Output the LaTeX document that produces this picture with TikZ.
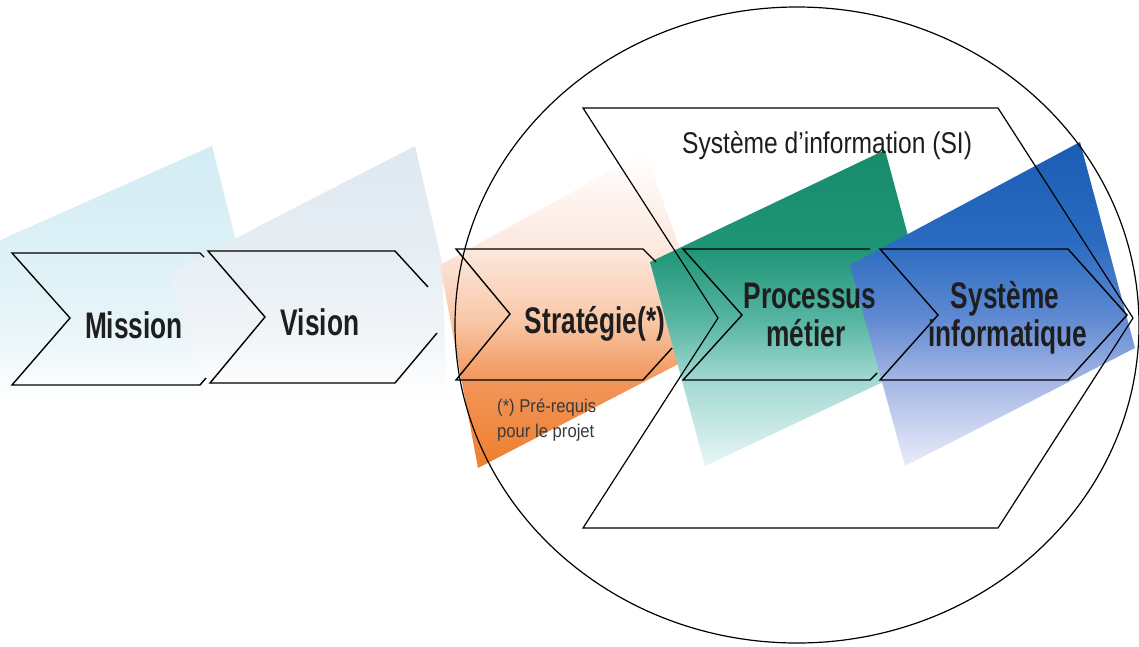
\documentclass[tikz,border=0pt]{standalone}
\usepackage{fontspec}
\setmainfont{Liberation Sans}
\newfontfamily\lblfont[FakeStretch=0.71]{Liberation Sans}
\newfontfamily\titfont[FakeStretch=0.82]{Liberation Sans}
\newfontfamily\notefont[FakeStretch=0.9]{Liberation Sans}
\definecolor{txtc}{HTML}{1E1E1E}
\definecolor{notec}{HTML}{3A3A3A}
% orange
\definecolor{or0}{HTML}{EE7F2C}
\definecolor{or1}{HTML}{F2955A}
\definecolor{or2}{HTML}{F8C8A8}
\definecolor{or3}{HTML}{FCE8DE}
% green
\definecolor{gr0}{HTML}{EAF7F7}
\definecolor{gr1}{HTML}{A2D9D2}
\definecolor{gr2}{HTML}{56B5A1}
\definecolor{gr3}{HTML}{1F9577}
\definecolor{gr4}{HTML}{178B6B}
% blue
\definecolor{bl0}{HTML}{EEEEFA}
\definecolor{bl1}{HTML}{A3B5E4}
\definecolor{bl2}{HTML}{5E88D1}
\definecolor{bl3}{HTML}{2B6CC2}
\definecolor{bl4}{HTML}{1B5CB4}
% light blues
\definecolor{lb1}{HTML}{E8F5F9}
\definecolor{lb2}{HTML}{DCF0F6}
\definecolor{lb3}{HTML}{D3ECF5}
\definecolor{lv1}{HTML}{F0F4F8}
\definecolor{lv2}{HTML}{E6EEF4}
\definecolor{lv3}{HTML}{DEE8F0}
\pgfdeclareverticalshading{fadeorange}{100bp}{color(0bp)=(or0); color(25bp)=(or0); color(39bp)=(or1); color(48.5bp)=(or2); color(59.5bp)=(or3); color(75bp)=(white); color(100bp)=(white)}
\pgfdeclareverticalshading{fadegreen}{100bp}{color(0bp)=(gr0); color(25bp)=(gr0); color(39bp)=(gr1); color(48.5bp)=(gr2); color(59.5bp)=(gr3); color(75bp)=(gr4); color(100bp)=(gr4)}
\pgfdeclareverticalshading{fadeblue}{100bp}{color(0bp)=(bl0); color(25bp)=(bl0); color(39bp)=(bl1); color(48.5bp)=(bl2); color(59.5bp)=(bl3); color(75bp)=(bl4); color(100bp)=(bl4)}
\pgfdeclareverticalshading{fademission}{100bp}{color(0bp)=(white); color(25bp)=(white); color(35.8bp)=(white); color(46.6bp)=(lb1); color(59bp)=(lb2); color(75bp)=(lb3); color(100bp)=(lb3)}
\pgfdeclareverticalshading{fadevision}{100bp}{color(0bp)=(white); color(25bp)=(white); color(35.8bp)=(white); color(46.6bp)=(lv1); color(59bp)=(lv2); color(75bp)=(lv3); color(100bp)=(lv3)}
\begin{document}
\begin{tikzpicture}[x=1pt,y=-1pt,
  chev/.style={draw=black, line width=1.4pt, line join=miter},
  outl/.style={draw=black, line width=1.2pt},
  lbl/.style={font=\lblfont\bfseries\fontsize{37}{40}\selectfont, text=txtc, inner sep=0pt, anchor=base},
  tit/.style={font=\titfont\fontsize{30}{34}\selectfont, text=txtc, inner sep=0pt, anchor=base west},
  note/.style={font=\notefont\fontsize{18.5}{22}\selectfont, text=notec, inner sep=0pt, anchor=base west}]
\useasboundingbox (0,0) rectangle (1139,646);
\fill[white] (0,0) rectangle (1139,646);

% ---- colour fades ----
\begin{scope}
  \clip (-40,258) -- (212,146) -- (242,265) -- (250,470) -- (-40,470) -- cycle;
  \shade[shading=fademission] (-40,146) rectangle (250,470);
\end{scope}
\begin{scope}
  \clip (170,272) -- (415,146) -- (442,262) -- (450,470) -- (225,470) -- cycle;
  \shade[shading=fadevision] (170,146) rectangle (450,470);
\end{scope}
\begin{scope}
  \clip (440,265) -- (645,152) -- (715,345) -- (478,468) -- cycle;
  \shade[shading=fadeorange] (440,150) rectangle (715,470);
\end{scope}
\begin{scope}
  \clip (650,262) -- (885,150) -- (940,355) -- (705,466) -- cycle;
  \shade[shading=fadegreen] (650,150) rectangle (940,470);
\end{scope}
\begin{scope}
  \clip (850,265) -- (1080,142) -- (1135,348) -- (905,466) -- cycle;
  \shade[shading=fadeblue] (850,142) rectangle (1135,470);
\end{scope}

% ---- chevrons ----
\draw[chev] (204,257) -- (200,253) -- (12,253) -- (70,318) -- (12,385) -- (200,385) -- (206,378);
\draw[chev] (428,287) -- (395,251) -- (208,251) -- (265,317) -- (210,383) -- (395,383) -- (437,333);
\draw[chev] (656,262) -- (643,249) -- (456,249) -- (510,314) -- (456,380) -- (643,380) -- (672,348);
\draw[chev] (870,249) -- (683,249) -- (742,315) -- (683,380) -- (870,380) -- (877,373);
\draw[chev] (880,249) -- (1068,249) -- (1127,315) -- (1068,380) -- (880,380) -- (938,315) -- cycle;

% ---- information system and circle ----
\draw[outl] (583,108) -- (998,108) -- (1133,318) -- (998,528) -- (583,528) -- (718,318) -- cycle;
\draw[outl] (797,325) ellipse [x radius=342, y radius=318];

% ---- texts ----
\node[lbl] (mission) at (134,338) {Mission};
\node[lbl] (vision) at (320,335) {Vision};
\node[lbl] (strategie) at (595,333) {Stratégie(*)};
\node[lbl] (proc1) at (810,308) {Processus};
\node[lbl] (proc2) at (806,346) {métier};
\node[lbl] (sysinf1) at (1005,308) {Système};
\node[lbl] (sysinf2) at (1008,346) {informatique};
\node[tit] (si) at (682,153) {Système d’information (SI)};
\node[note] (pre1) at (497,412) {(*) Pré-requis};
\node[note] (pre2) at (497,437) {pour le projet};
\end{tikzpicture}
\end{document}
